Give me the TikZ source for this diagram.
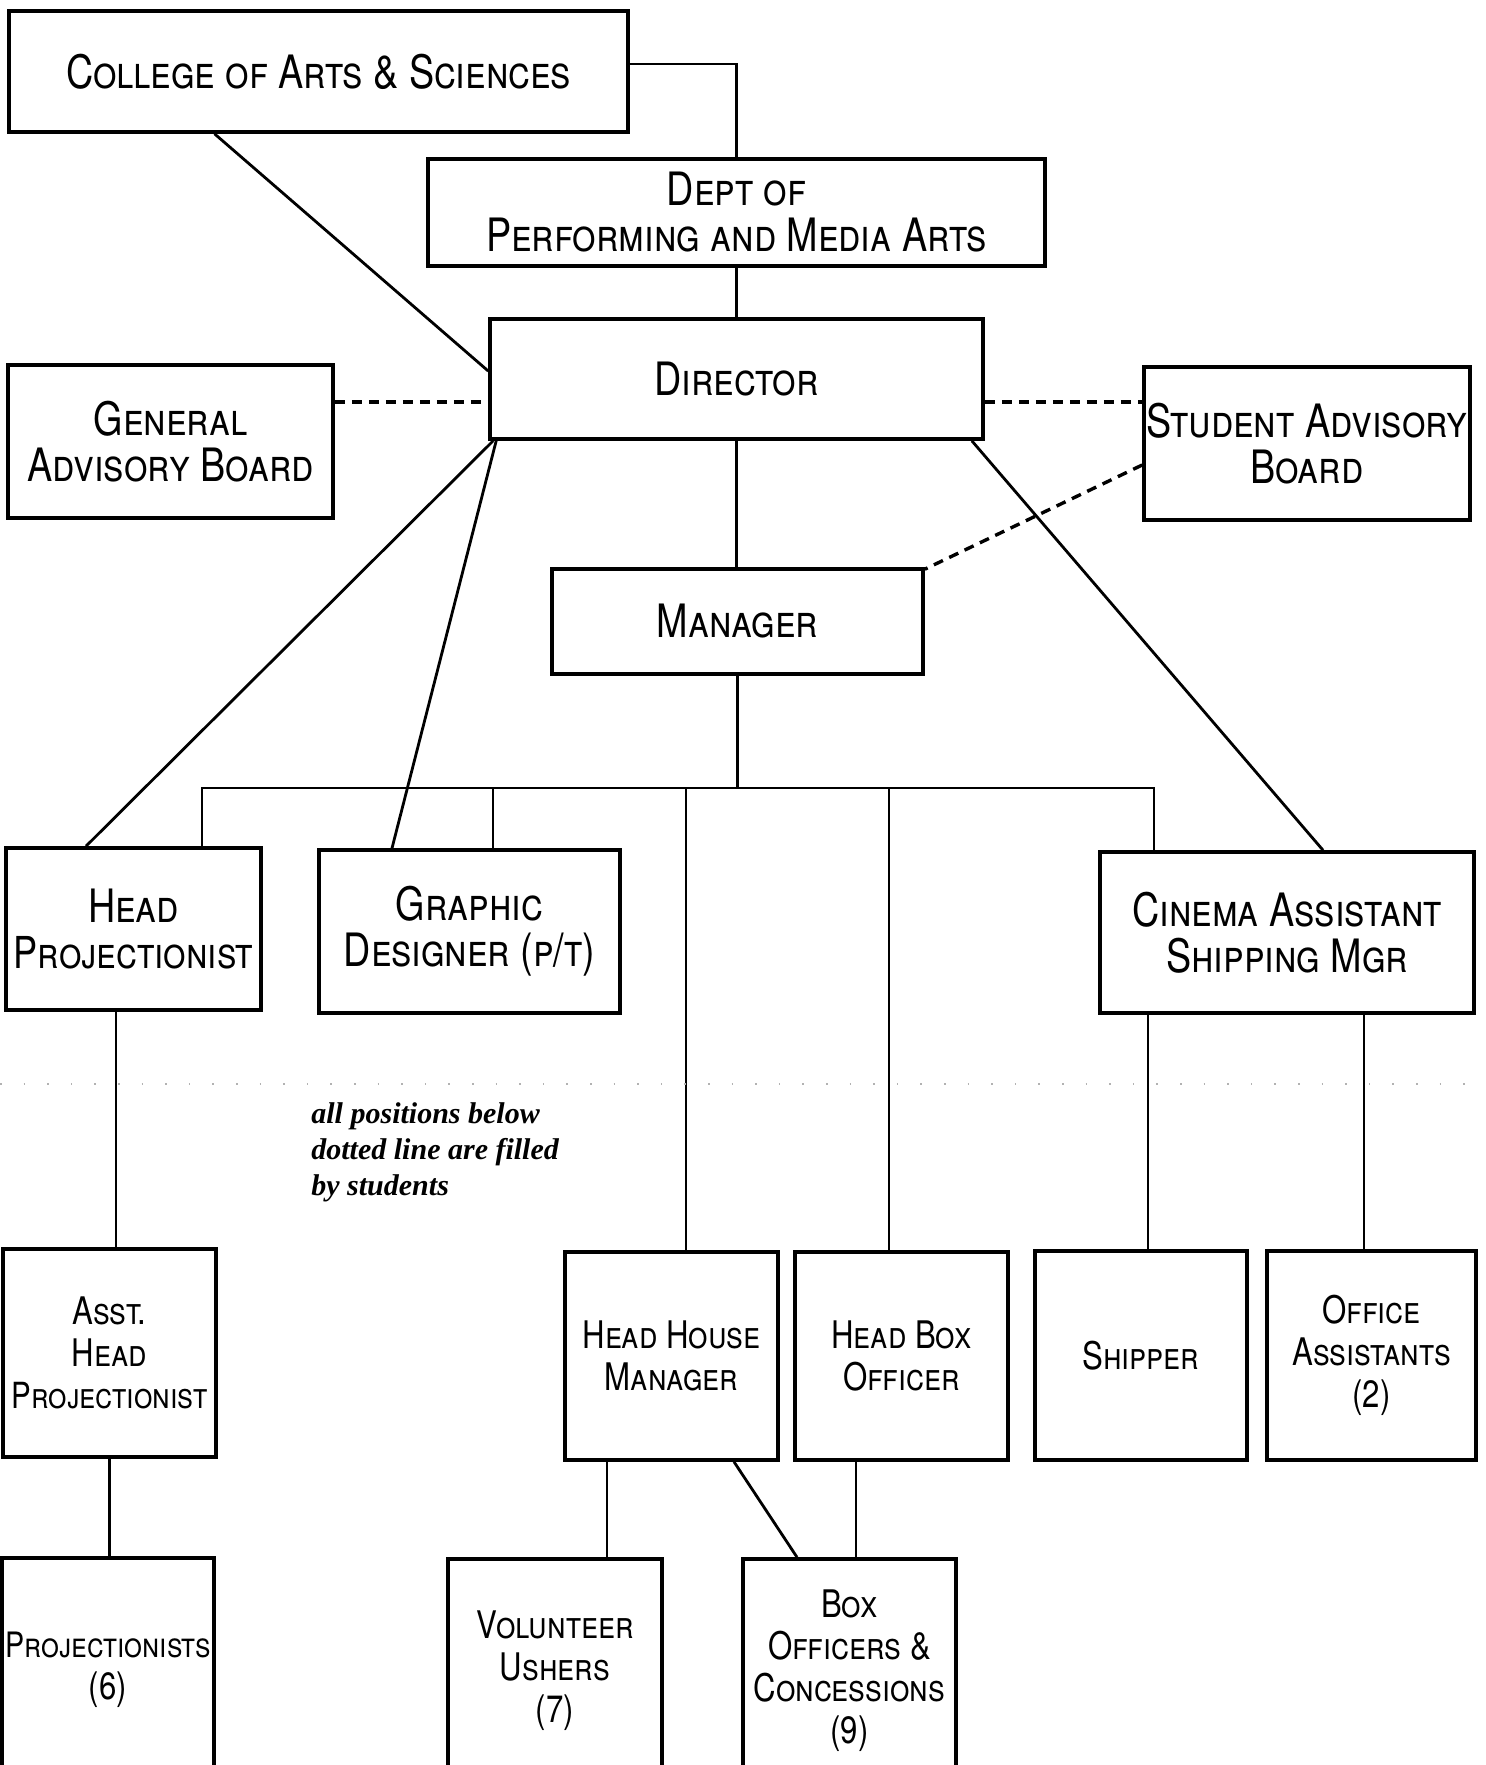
\documentclass[tikz,border=0pt]{standalone}
\usepackage{fontspec}
\newfontfamily\chartfont{TeX Gyre Heros}[Letters=SmallCaps, FakeStretch=0.82]
\newfontfamily\notefont{Liberation Serif}
\usetikzlibrary{positioning}

\tikzset{
    box/.style={draw, line width=1.8pt, align=center, inner sep=0pt,
        font=\chartfont\fontsize{23}{23}\selectfont},
    smallbox/.style={box, font=\chartfont\fontsize{19}{21}\selectfont},
    link/.style={line width=1.4pt},
    dashlink/.style={line width=1.7pt, dash pattern=on 5pt off 3.5pt},
    dotline/.style={black!30, line width=0.8pt, dash pattern=on 0.8pt off 11pt},
}

\begin{document}
\begin{tikzpicture}[x=0.5pt, y=-0.5pt]
        \clip (0, 0) rectangle (1486, 1765);

        % 上层
        \node[box, minimum width=309.5pt, minimum height=60.5pt] (college) at (318.5, 71.5) {College of Arts \& Sciences};
        \node[box, minimum width=308.5pt, minimum height=53.5pt] (dept) at (736.5, 212.5) {Dept of\\Performing and Media Arts};
        \node[box, minimum width=246.5pt, minimum height=60pt] (director) at (736.5, 379) {Director};
        \node[box, minimum width=162.5pt, minimum height=76.5pt] (general) at (170.5, 441.5) {General\\Advisory Board};
        \node[box, minimum width=163pt, minimum height=76.5pt] (student) at (1307, 443.5) {Student Advisory\\Board};
        \node[box, minimum width=185.5pt, minimum height=52.5pt] (manager) at (737.5, 621.5) {Manager};

        % 中层
        \node[box, minimum width=127.5pt, minimum height=81pt] (headproj) at (133.5, 929) {Head\\{\fontsize{22}{23}\selectfont Projectionist}};
        \node[box, minimum width=150.5pt, minimum height=81.5pt] (graphic) at (469.5, 931.5) {Graphic\\Designer (p/t)};
        \node[box, minimum width=187pt, minimum height=80.5pt] (cinema) at (1287, 932.5) {Cinema Assistant\\Shipping Mgr};

        % 学生岗位
        \node[smallbox, minimum width=106.5pt, minimum height=104pt] (asst) at (109.5, 1353) {Asst.\\Head\\{\fontsize{18}{21}\selectfont Projectionist}};
        \node[smallbox, minimum width=106.5pt, minimum height=104pt] (hhm) at (671.5, 1356) {Head House\\Manager};
        \node[smallbox, minimum width=106.5pt, minimum height=104pt] (hbo) at (901.5, 1356) {Head Box\\Officer};
        \node[smallbox, minimum width=106pt, minimum height=104.5pt] (shipper) at (1141, 1355.5) {Shipper};
        \node[smallbox, minimum width=104.5pt, minimum height=104.5pt] (office) at (1371.5, 1355.5) {Office\\Assistants\\(2)};
        \node[smallbox, minimum width=106pt, minimum height=112pt] (proj) at (108, 1670) {{\fontsize{17.5}{21}\selectfont Projectionists}\\(6)};
        \node[smallbox, minimum width=107pt, minimum height=112pt] (ushers) at (555, 1671) {Volunteer\\Ushers\\(7)};
        \node[smallbox, minimum width=106.5pt, minimum height=112pt] (boxoff) at (849.5, 1671) {Box\\Officers \&\\Concessions\\(9)};

        % 实线连接
        \draw[link] ([yshift=3.75pt]college.east) -| (dept.north);
        \draw[link] (dept.south) -- (dept.south |- director.north);
        \draw[link] ([xshift=-52pt]college.south) -- ([yshift=4pt]director.west);
        \draw[link] (director.south) -- (director.south |- manager.north);
        \draw[link] ([xshift=2.5pt]director.south west) -- ([xshift=-23.75pt]headproj.north);
        \draw[link] ([xshift=4pt]director.south west) -- ([xshift=-38.75pt]graphic.north);
        \draw[link] ([xshift=-6.5pt]director.south east) -- ([xshift=18pt]cinema.north);

        % 经理下方的总线
        \coordinate (bus) at (737, 788);
        \coordinate (gdtop) at ([xshift=11.75pt]graphic.north);
        \coordinate (hhmtop) at ([xshift=7.25pt]hhm.north);
        \coordinate (hbotop) at ([xshift=-6.25pt]hbo.north);
        \draw[link] (manager.south) -- (manager.south |- bus);
        \draw[link] ([xshift=34.25pt]headproj.north) |- (bus) -| ([xshift=-66.5pt]cinema.north);
        \draw[link] (gdtop) -- (gdtop |- bus);
        \draw[link] (hhmtop) -- (hhmtop |- bus);
        \draw[link] (hbotop) -- (hbotop |- bus);

        % 下层连接
        \coordinate (hpbot) at ([xshift=-8.75pt]headproj.south);
        \coordinate (cinbotA) at ([xshift=-69.5pt]cinema.south);
        \coordinate (cinbotB) at ([xshift=38.5pt]cinema.south);
        \coordinate (hhmbot) at ([xshift=-32.25pt]hhm.south);
        \coordinate (hbobot) at ([xshift=-22.75pt]hbo.south);
        \draw[link] (hpbot) -- (hpbot |- asst.north);
        \draw[link] (asst.south) -- (asst.south |- proj.north);
        \draw[link] (cinbotA) -- (cinbotA |- shipper.north);
        \draw[link] (cinbotB) -- (cinbotB |- office.north);
        \draw[link] (hhmbot) -- (hhmbot |- ushers.north);
        \draw[link] ([xshift=31.25pt]hhm.south) -- ([xshift=-26.25pt]boxoff.north);
        \draw[link] (hbobot) -- (hbobot |- boxoff.north);

        % 虚线：顾问委员会
        \coordinate (dashy) at (0, 402);
        \draw[dashlink] (general.east |- dashy) -- (director.west |- dashy);
        \draw[dashlink] (director.east |- dashy) -- (student.west |- dashy);
        \draw[dashlink] ([yshift=-10.75pt]student.west) -- ([yshift=-1pt]manager.north east);

        % 学生分界线与说明
        \draw[dotline] (0, 1084) -- (1486, 1084);
        \node[anchor=north west, align=left, inner sep=0pt,
            font=\notefont\bfseries\itshape\fontsize{15}{18}\selectfont] (note) at (311, 1102)
            {all positions below\\dotted line are filled\\by students};
    \end{tikzpicture}
\end{document}
